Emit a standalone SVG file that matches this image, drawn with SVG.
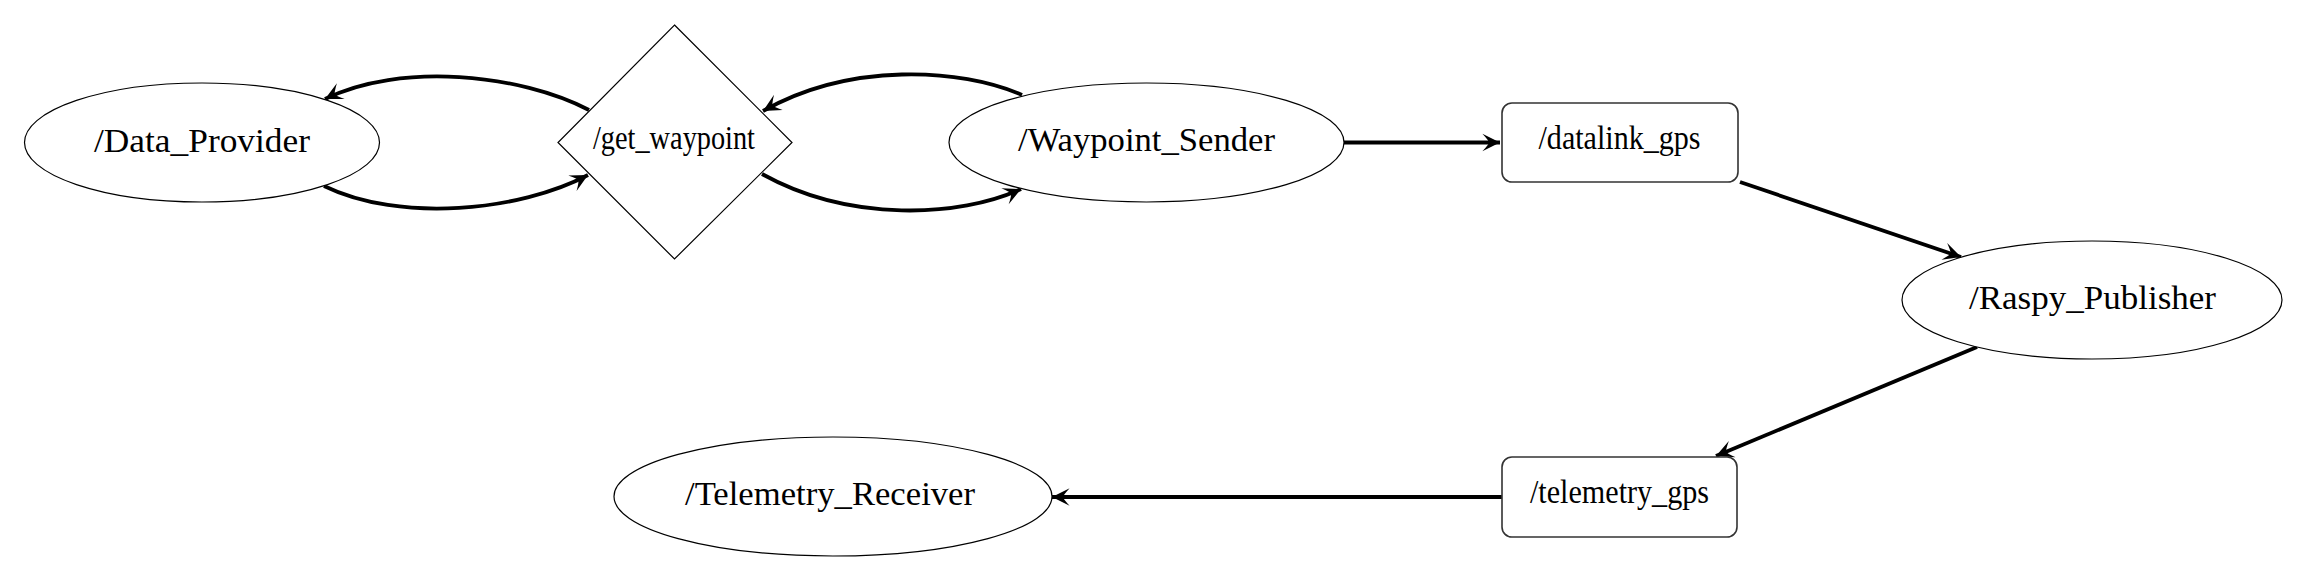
<svg xmlns="http://www.w3.org/2000/svg" width="2308" height="582" viewBox="0 0 2308 582">
<style>
.node{fill:#fff;stroke:#000;stroke-width:1.2}
.box{fill:#fff;stroke:#333;stroke-width:1.6}
.lbl{font-family:'Liberation Serif','DejaVu Serif',serif;font-size:33px;fill:#000;text-anchor:middle}
.edge{fill:none;stroke:#000;stroke-width:3.8}
</style>
<defs>
<marker id="arr" markerUnits="userSpaceOnUse" markerWidth="22" markerHeight="22" viewBox="-18 -9 20 18" refX="0" refY="0" orient="auto">
<path d="M0,0 L-16,-8 Q-10,-1.5 -10,0 Q-10,1.5 -16,8 Z" fill="#000"/>
</marker>
</defs>
<rect width="2308" height="582" fill="#fff"/>
<g id="connectors">
<path class="edge" marker-end="url(#arr)" d="M589,110 C520,74 400,62 325,99"/>
<path class="edge" marker-end="url(#arr)" d="M324,186 C400,223 520,211 588,175"/>
<path class="edge" marker-end="url(#arr)" d="M1022,95 C960,68 850,62 763,111"/>
<path class="edge" marker-end="url(#arr)" d="M762,174 C850,223 960,217 1021,189"/>
<path class="edge" marker-end="url(#arr)" d="M1344,142.5 L1500,142.5"/>
<path class="edge" marker-end="url(#arr)" d="M1740,182 L1961,257"/>
<path class="edge" marker-end="url(#arr)" d="M1977,347 L1716,456"/>
<path class="edge" marker-end="url(#arr)" d="M1502,497 L1052,497"/>
</g>
<g id="Data_Provider">
<ellipse class="node" cx="202" cy="142.5" rx="177.5" ry="59.5"/>
<text class="lbl" font-family="Liberation Serif, serif" x="202" y="152" textLength="216" lengthAdjust="spacingAndGlyphs">/Data_Provider</text>
</g>
<g id="get_waypoint">
<polygon class="node" points="674.5,25 792,142.5 674.5,259 558,142.5"/>
<text class="lbl" font-family="Liberation Serif, serif" x="674" y="149" textLength="162" lengthAdjust="spacingAndGlyphs">/get_waypoint</text>
</g>
<g id="Waypoint_Sender">
<ellipse class="node" cx="1146.5" cy="142.5" rx="197.5" ry="59.5"/>
<text class="lbl" font-family="Liberation Serif, serif" x="1146.5" y="151" textLength="257" lengthAdjust="spacingAndGlyphs">/Waypoint_Sender</text>
</g>
<g id="datalink_gps">
<rect class="box" x="1502" y="103" width="236" height="79" rx="10"/>
<text class="lbl" font-family="Liberation Serif, serif" x="1619.5" y="149" textLength="162" lengthAdjust="spacingAndGlyphs">/datalink_gps</text>
</g>
<g id="Raspy_Publisher">
<ellipse class="node" cx="2092" cy="300" rx="190" ry="59"/>
<text class="lbl" font-family="Liberation Serif, serif" x="2092.5" y="309" textLength="247" lengthAdjust="spacingAndGlyphs">/Raspy_Publisher</text>
</g>
<g id="telemetry_gps">
<rect class="box" x="1502" y="457" width="235" height="80" rx="10"/>
<text class="lbl" font-family="Liberation Serif, serif" x="1619.5" y="503" textLength="179" lengthAdjust="spacingAndGlyphs">/telemetry_gps</text>
</g>
<g id="Telemetry_Receiver">
<ellipse class="node" cx="833" cy="496.5" rx="219" ry="59.5"/>
<text class="lbl" font-family="Liberation Serif, serif" x="830" y="505" textLength="290" lengthAdjust="spacingAndGlyphs">/Telemetry_Receiver</text>
</g>
</svg>
